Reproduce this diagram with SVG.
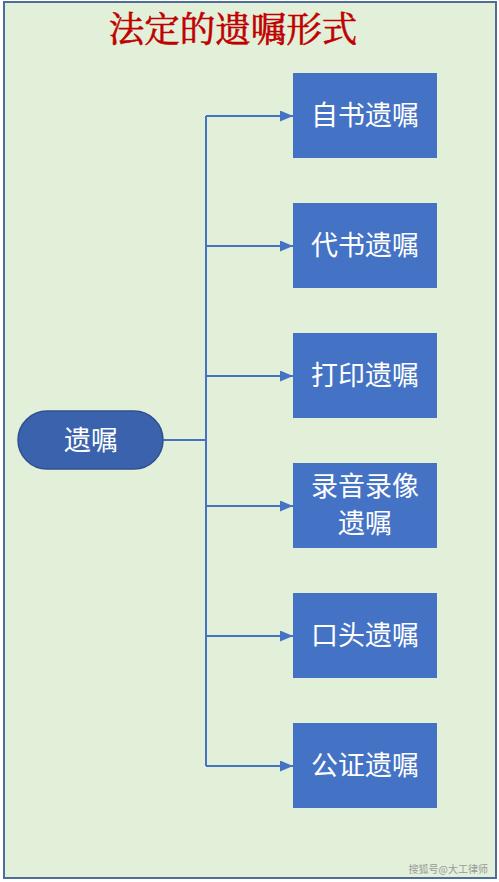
<svg xmlns="http://www.w3.org/2000/svg" width="499" height="882" viewBox="0 0 499 882">
<defs>
<style>
.box{fill:#4472c4;}
.lbl{fill:#ffffff;font-family:"Noto Sans CJK SC","Noto Sans CJK JP",sans-serif;font-size:27px;text-anchor:middle;dominant-baseline:central;}
.conn{stroke:#4472c4;stroke-width:2;fill:none;}
</style>
<marker id="arr" viewBox="0 0 13 11" refX="13" refY="5.5" markerWidth="13" markerHeight="11" orient="auto" markerUnits="userSpaceOnUse">
<path d="M0,0 L13,5.5 L0,11 z" fill="#4472c4"/>
</marker>
</defs>
<rect x="4" y="2" width="492" height="876" fill="#e2efd9" stroke="#4f6c9a" stroke-width="2"/>
<text x="233" y="42" fill="#c00000" stroke="#c00000" stroke-width="0.6" font-family="'Noto Serif CJK SC','Noto Sans CJK SC',serif" font-size="35.5" text-anchor="middle">法定的遗嘱形式</text>
<g id="connectors">
<path class="conn" d="M163,440 H206"/>
<path class="conn" d="M206,116 V766"/>
<path class="conn" d="M206,116 H293" marker-end="url(#arr)"/>
<path class="conn" d="M206,246 H293" marker-end="url(#arr)"/>
<path class="conn" d="M206,376 H293" marker-end="url(#arr)"/>
<path class="conn" d="M206,506 H293" marker-end="url(#arr)"/>
<path class="conn" d="M206,636 H293" marker-end="url(#arr)"/>
<path class="conn" d="M206,766 H293" marker-end="url(#arr)"/>
</g>
<g id="root">
<rect x="18" y="411" width="145" height="58" rx="29" ry="29" fill="#3b62ad" stroke="#2f5090" stroke-width="1.5"/>
<text class="lbl" x="91" y="438">遗嘱</text>
</g>
<g id="n1"><rect class="box" x="293" y="73" width="144" height="85"/><text class="lbl" x="365" y="113">自书遗嘱</text></g>
<g id="n2"><rect class="box" x="293" y="203" width="144" height="85"/><text class="lbl" x="365" y="243">代书遗嘱</text></g>
<g id="n3"><rect class="box" x="293" y="333" width="144" height="85"/><text class="lbl" x="365" y="373">打印遗嘱</text></g>
<g id="n4"><rect class="box" x="293" y="463" width="144" height="85"/><text class="lbl" x="365" y="484">录音录像</text><text class="lbl" x="365" y="521">遗嘱</text></g>
<g id="n5"><rect class="box" x="293" y="593" width="144" height="85"/><text class="lbl" x="365" y="633">口头遗嘱</text></g>
<g id="n6"><rect class="box" x="293" y="723" width="144" height="85"/><text class="lbl" x="365" y="763">公证遗嘱</text></g>
<text x="488" y="873" fill="#9a9a9a" font-family="'Noto Sans CJK SC',sans-serif" font-size="10" text-anchor="end">搜狐号@大工律师</text>
</svg>
